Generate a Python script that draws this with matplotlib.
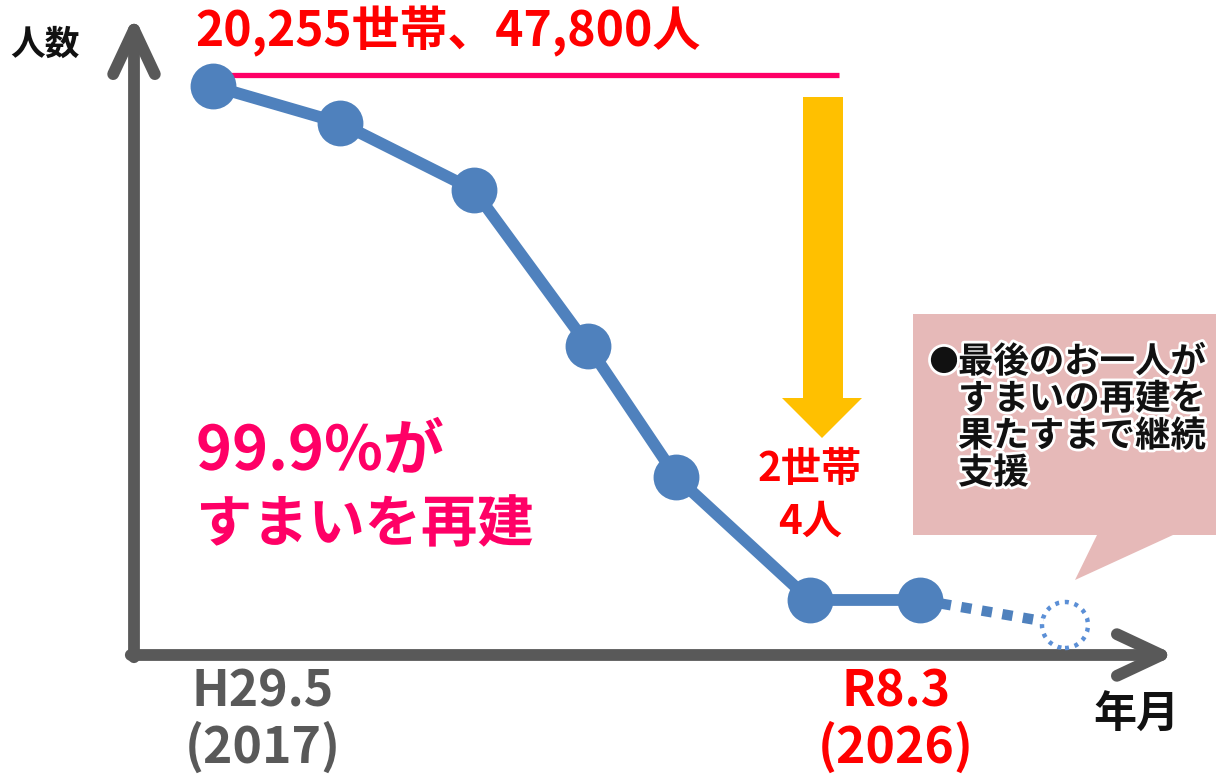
import matplotlib
matplotlib.use("Agg")
import matplotlib.pyplot as plt
from matplotlib.patches import FancyArrowPatch, Polygon, Ellipse
import matplotlib.patheffects as pe

plt.rcParams['font.family'] = ['Noto Sans CJK JP', 'DejaVu Sans']

# ---- data (schematic) ----
years = [2017.33, 2018.98, 2020.71, 2022.19, 2023.33, 2025.06, 2026.49]   # solid points
households = [20255, 18865, 16347, 10485, 5562, 940, 940]
future_year = 2028.37
future_households = 0
top_label = "20,255世帯、47,800人"
end_label = ["2世帯", "4人"]
start_tick = ["H29.5", "(2017)"]
end_tick = ["R8.3", "(2026)"]
x_axis_label = "年月"
y_axis_label = "人数"
headline = ["99.9%が", "すまいを再建"]
callout = ["最後のお一人が", "すまいの再建を", "果たすまで継続", "支援"]

W, H = 1216, 776
fig = plt.figure(figsize=(W / 100, H / 100), dpi=100)
ax = fig.add_axes([0, 0, 1, 1])
ax.axis('off')

# data scale chosen so that the schematic lands like the reference
px_per_year = 77.2
x0_px, x0_year = 213, 2017.33
ax.set_xlim(x0_year - x0_px / px_per_year, x0_year + (W - x0_px) / px_per_year)
hh_per_px = 37.58
zero_py = 625
ax.set_ylim((zero_py - H) * hh_per_px, zero_py * hh_per_px)


def P(px, py):
    return (px / W, 1 - py / H)


T = ax.transAxes
gray = '#595959'
blue = '#4F81BD'
red = '#FF0000'
magenta = '#FF0066'

# ---- axes arrows ----
for a, b in [(P(134, 660), P(134, 13)), (P(128, 655), P(1178, 655))]:
    arr = FancyArrowPatch(a, b, transform=T,
                          arrowstyle='->,head_length=32,head_width=15',
                          mutation_scale=1, lw=8.5, color=gray,
                          capstyle='round', joinstyle='round', zorder=2)
    ax.add_patch(arr)

# ---- pink reference line ----
ax.plot(*zip(P(222, 75), P(839, 75)), transform=T, color=magenta,
        lw=3.8, solid_capstyle='butt', zorder=3)

# ---- yellow arrow ----
arrow_pts = [P(803, 97), P(843, 97), P(843, 398), P(862, 398), P(822, 438),
             P(782, 398), P(803, 398)]
ax.add_patch(Polygon(arrow_pts, closed=True, transform=T, facecolor='#FFC000',
                     edgecolor='none', zorder=3))

# ---- main series ----
ax.plot([years[-1], future_year], [households[-1], future_households],
        color=blue, lw=7.5, ls=(0, (1.0, 1.0)), zorder=4, dash_capstyle='butt')
ax.plot(years, households, color=blue, lw=8.5, marker='o', ms=33,
        markeredgewidth=0, zorder=5, solid_capstyle='butt')
ax.plot([future_year], [future_households], marker='o', ms=33, mfc='white',
        mec='none', ls='none', zorder=6)
ax.add_patch(Ellipse(P(1065, 625), 46 / W, 46 / H, transform=T,
                     facecolor='none', edgecolor='#5B8FD6', lw=3.2,
                     ls=(0, (0.9, 1.3)), zorder=7))

# ---- callout box ----
box = [P(913, 314), P(1216, 314), P(1216, 535), P(1173, 535), P(1075, 580),
       P(1097, 535), P(913, 535)]
ax.add_patch(Polygon(box, closed=True, transform=T, facecolor='#E6B9B8',
                     edgecolor='none', zorder=1))
glow_w = [pe.withStroke(linewidth=4, foreground='white')]
ax.text(*P(944, 362), "●", transform=T, fontsize=21, color='#111111',
        ha='center', va='center', fontweight='bold', path_effects=glow_w)
for i, line in enumerate(callout):
    ax.text(*P(958, 362 + i * 37), line, transform=T, fontsize=25.5,
            color='#111111', ha='left', va='center', fontweight='bold',
            path_effects=glow_w)

# ---- texts ----
ax.text(*P(448, 31), top_label, transform=T, fontsize=34.5, color=red,
        ha='center', va='center', fontweight='bold')
ax.text(*P(810, 470), end_label[0], transform=T, fontsize=29,
        color=red, ha='center', va='center', fontweight='bold')
ax.text(*P(810, 522), end_label[1], transform=T, fontsize=29,
        color=red, ha='center', va='center', fontweight='bold')

glow = [pe.withStroke(linewidth=8, foreground='white')]
ax.text(*P(196, 452), headline[0], transform=T, fontsize=44, color=magenta,
        ha='left', va='center', fontweight='bold', path_effects=glow)
ax.text(*P(196, 525), headline[1], transform=T, fontsize=40.5, color=magenta,
        ha='left', va='center', fontweight='bold', path_effects=glow)

ax.text(*P(263, 692), start_tick[0], transform=T, fontsize=36, color=gray,
        ha='center', va='center', fontweight='bold')
ax.text(*P(263, 748), start_tick[1], transform=T, fontsize=36, color=gray,
        ha='center', va='center', fontweight='bold')
ax.text(*P(896, 692), end_tick[0], transform=T, fontsize=36, color=red,
        ha='center', va='center', fontweight='bold')
ax.text(*P(896, 748), end_tick[1], transform=T, fontsize=36, color=red,
        ha='center', va='center', fontweight='bold')

ax.text(*P(1136, 715), x_axis_label, transform=T, fontsize=31, color='#111111',
        ha='center', va='center', fontweight='bold')
ax.text(*P(45, 44), y_axis_label, transform=T, fontsize=25, color='#111111',
        ha='center', va='center', fontweight='bold')

fig.savefig("out.png", dpi=100)
